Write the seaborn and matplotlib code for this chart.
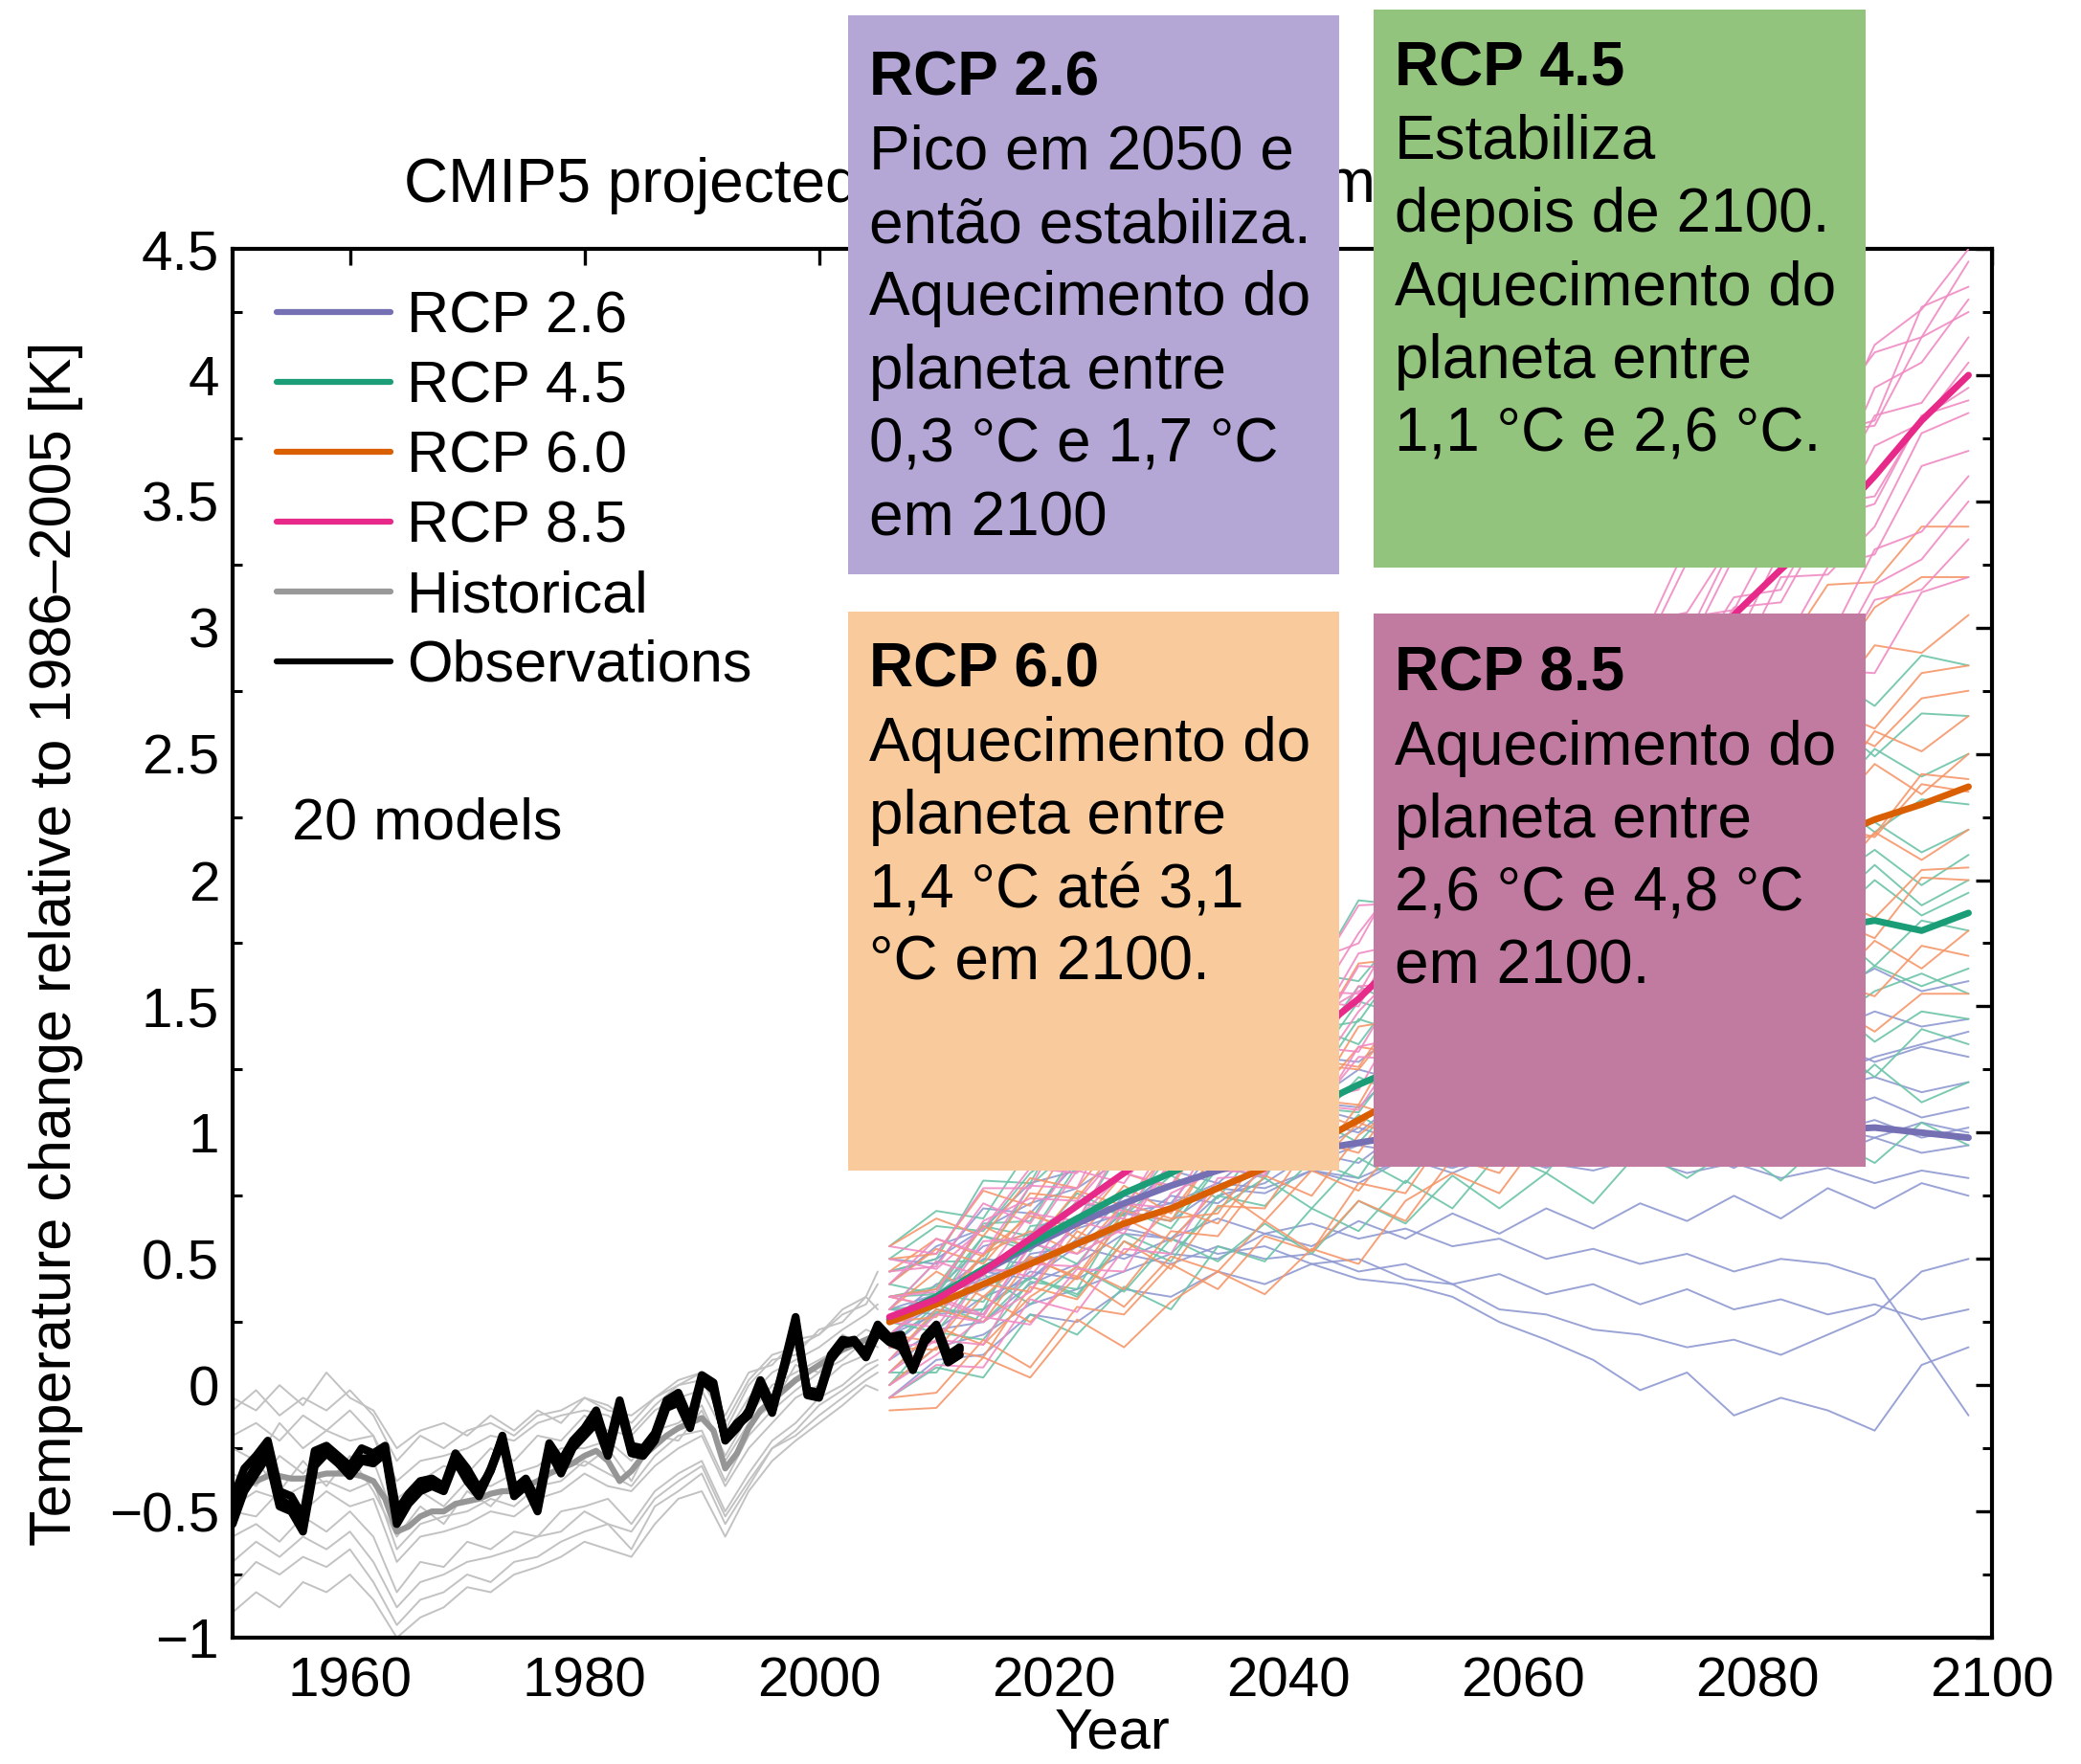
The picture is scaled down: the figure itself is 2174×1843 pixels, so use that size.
import matplotlib
matplotlib.use("Agg")
import matplotlib.pyplot as plt
import pandas as pd
import seaborn as sns
from matplotlib.lines import Line2D
from matplotlib.patches import Rectangle

# ---------------------------------------------------------------- data
hist_years = list(range(1950, 2006, 2)) + [2005]
hist_mean_years = list(range(1950, 2006))
hist_mean = [-0.42, -0.40, -0.38, -0.36, -0.36, -0.37, -0.37, -0.36, -0.35, -0.35,
             -0.35, -0.36, -0.38, -0.45, -0.58, -0.56, -0.52, -0.50, -0.50, -0.47,
             -0.46, -0.45, -0.43, -0.42, -0.42, -0.40, -0.38, -0.35, -0.33, -0.31,
             -0.28, -0.26, -0.30, -0.38, -0.34, -0.28, -0.24, -0.20, -0.17, -0.15,
             -0.13, -0.18, -0.33, -0.27, -0.17, -0.10, -0.06, -0.02, 0.02, 0.05,
             0.08, 0.11, 0.14, 0.16, 0.18, 0.20]
hist_models = [
    [-.10, -.02, -.12, -.05, -.10, -.02, -.12, -.30, -.20, -.25, -.18, -.15, -.20, -.12, -.10, -.05, -.08, -.15, -.05, .02, .05, -.18, .00, .10, .12, .22, .25, .35, .30],
    [-.80, -.70, -.75, -.68, -.72, -.65, -.78, -.95, -.85, -.82, -.75, -.78, -.70, -.68, -.62, -.58, -.55, -.65, -.48, -.42, -.35, -.55, -.40, -.25, -.20, -.12, -.05, .02, .05],
    [-.25, -.30, -.15, -.25, -.18, -.22, -.20, -.45, -.38, -.32, -.35, -.25, -.30, -.20, -.22, -.12, -.18, -.20, -.10, -.05, -.02, -.20, -.05, .05, .10, .15, .22, .28, .32],
    [-.60, -.55, -.62, -.52, -.58, -.50, -.60, -.82, -.70, -.72, -.62, -.65, -.58, -.60, -.50, -.48, -.45, -.55, -.42, -.35, -.30, -.50, -.35, -.22, -.15, -.05, .00, .08, .10],
    [-.35, -.40, -.28, -.35, -.25, -.32, -.30, -.55, -.42, -.48, -.38, -.40, -.35, -.32, -.25, -.25, -.22, -.30, -.18, -.15, -.08, -.28, -.12, .00, .05, .10, .15, .22, .20],
    [-.50, -.52, -.42, -.50, -.42, -.48, -.45, -.70, -.60, -.58, -.55, -.50, -.52, -.45, -.42, -.35, -.40, -.42, -.32, -.25, -.20, -.40, -.25, -.15, -.05, .00, .08, .12, .18],
    [-.20, -.15, -.22, -.12, -.18, -.10, -.20, -.38, -.30, -.28, -.25, -.20, -.22, -.15, -.12, -.10, -.12, -.18, -.08, .00, .02, -.15, .02, .12, .15, .20, .28, .32, .40],
    [-.90, -.82, -.88, -.78, -.82, -.75, -.85, -1.00, -.92, -.88, -.80, -.82, -.75, -.72, -.68, -.62, -.65, -.68, -.55, -.45, -.42, -.60, -.42, -.30, -.22, -.15, -.08, .00, -.02],
    [-.45, -.30, -.42, -.30, -.40, -.28, -.42, -.60, -.48, -.55, -.42, -.48, -.38, -.42, -.30, -.32, -.25, -.38, -.20, -.22, -.10, -.30, -.15, -.08, .08, .05, .20, .15, .25],
    [-.05, -.10, .00, -.08, .05, -.05, -.10, -.25, -.18, -.15, -.20, -.12, -.18, -.10, -.15, -.05, -.10, -.12, -.05, .00, .05, -.12, .05, .08, .18, .20, .30, .35, .45],
    [-.70, -.62, -.68, -.60, -.65, -.58, -.70, -.88, -.78, -.75, -.70, -.68, -.65, -.60, -.58, -.50, -.55, -.58, -.45, -.38, -.32, -.52, -.38, -.25, -.18, -.08, -.02, .05, .08],
    [-.48, -.42, -.45, -.40, -.38, -.42, -.38, -.65, -.55, -.52, -.50, -.45, -.48, -.40, -.38, -.30, -.35, -.40, -.28, -.20, -.18, -.38, -.20, -.10, -.02, .05, .10, .18, .15],
]

obs_years = list(range(1950, 2013))
obs_a = [-.50, -.39, -.32, -.25, -.45, -.48, -.55, -.30, -.26, -.30,
         -.34, -.29, -.29, -.26, -.53, -.45, -.40, -.39, -.41, -.29,
         -.37, -.43, -.33, -.21, -.43, -.39, -.48, -.25, -.34, -.24,
         -.19, -.13, -.27, -.08, -.26, -.27, -.21, -.08, -.06, -.16,
         .03, -.01, -.21, -.15, -.11, .00, -.10, .08, .27, -.03,
         -.04, .11, .17, .18, .12, .22, .18, .16, .07, .18,
         .23, .10, .14]
obs_b = [-.45, -.33, -.28, -.22, -.42, -.44, -.52, -.26, -.24, -.28,
         -.32, -.25, -.27, -.24, -.50, -.43, -.38, -.37, -.40, -.27,
         -.33, -.41, -.34, -.20, -.41, -.37, -.46, -.23, -.30, -.22,
         -.17, -.10, -.25, -.06, -.24, -.25, -.19, -.06, -.03, -.14,
         .04, .01, -.22, -.17, -.10, .02, -.08, .06, .23, -.02,
         -.03, .12, .18, .17, .13, .24, .19, .20, .06, .19,
         .24, .12, .15]
obs_c = [-.55, -.42, -.35, -.28, -.48, -.50, -.58, -.32, -.27, -.31,
         -.36, -.30, -.31, -.27, -.55, -.47, -.42, -.40, -.42, -.30,
         -.38, -.44, -.34, -.22, -.44, -.40, -.50, -.26, -.35, -.25,
         -.20, -.15, -.28, -.09, -.27, -.28, -.22, -.09, -.07, -.17,
         .02, -.02, -.21, -.16, -.12, -.01, -.11, .07, .25, -.04,
         -.05, .10, .16, .17, .11, .21, .17, .15, .06, .17,
         .22, .09, .12]

rcp_years = list(range(2006, 2099, 4))
rcp26_mean = [.26, .35, .45, .55, .64, .72, .79, .85, .90, .93, .96, .99, 1.00, 1.01, 1.02, 1.02, 1.01, 1.02, 1.01, 1.00, 1.01, 1.02, 1.00, .98]
rcp45_mean = [.26, .35, .46, .56, .66, .76, .84, .93, 1.02, 1.10, 1.19, 1.27, 1.36, 1.44, 1.51, 1.58, 1.64, 1.70, 1.74, 1.78, 1.81, 1.84, 1.80, 1.87]
rcp60_mean = [.25, .32, .40, .48, .56, .64, .70, .78, .86, .95, 1.05, 1.15, 1.26, 1.38, 1.50, 1.62, 1.74, 1.86, 1.97, 2.07, 2.16, 2.24, 2.30, 2.37]
rcp85_mean = [.27, .34, .45, .58, .71, .84, .97, 1.10, 1.24, 1.38, 1.53, 1.71, 1.90, 2.09, 2.28, 2.47, 2.66, 2.86, 3.05, 3.23, 3.40, 3.60, 3.82, 4.00]

rcp26_models = [
    [.40, .55, .62, .80, .85, 1.02, 1.00, 1.18, 1.15, 1.30, 1.28, 1.42, 1.35, 1.48, 1.40, 1.52, 1.47, 1.58, 1.50, 1.62, 1.55, 1.65, 1.56, 1.60],
    [.15, .30, .28, .52, .55, .75, .72, .95, .98, 1.12, 1.10, 1.28, 1.22, 1.35, 1.30, 1.42, 1.36, 1.45, 1.38, 1.50, 1.40, 1.48, 1.42, 1.45],
    [.50, .48, .70, .68, .88, .90, 1.05, 1.02, 1.18, 1.12, 1.25, 1.20, 1.32, 1.24, 1.30, 1.22, 1.35, 1.28, 1.33, 1.25, 1.36, 1.28, 1.34, 1.30],
    [.25, .40, .45, .55, .72, .70, .85, .92, .98, 1.05, 1.00, 1.15, 1.10, 1.22, 1.14, 1.25, 1.18, 1.22, 1.15, 1.25, 1.18, 1.22, 1.16, 1.20],
    [.05, .22, .25, .40, .48, .60, .58, .75, .80, .92, .88, 1.02, .98, 1.10, 1.05, 1.15, 1.08, 1.12, 1.05, 1.15, 1.08, 1.14, 1.06, 1.10],
    [.35, .38, .55, .60, .72, .70, .85, .80, .95, .92, 1.02, .96, 1.06, .98, 1.05, .96, 1.04, .98, 1.05, .96, 1.02, .98, 1.04, 1.00],
    [.20, .32, .38, .50, .55, .68, .65, .78, .76, .85, .80, .90, .84, .92, .86, .95, .88, .94, .86, .96, .90, .98, .92, .95],
    [.30, .28, .45, .42, .55, .50, .58, .52, .55, .48, .50, .42, .40, .30, .28, .22, .20, .15, .18, .12, .20, .28, .45, .50],
    [-.05, .10, .12, .28, .25, .38, .35, .45, .40, .48, .42, .40, .35, .25, .18, .10, -.02, .05, -.12, -.05, -.10, -.18, .08, .15],
    [.25, .35, .42, .50, .55, .62, .58, .66, .60, .64, .58, .62, .55, .58, .50, .54, .48, .52, .45, .50, .48, .42, .15, -.12],
    [.10, .22, .35, .42, .58, .62, .75, .72, .85, .88, .95, .92, 1.00, .94, 1.02, .96, 1.05, .98, 1.03, .95, 1.00, 1.05, .98, 1.02],
    [.45, .50, .62, .72, .78, .90, .88, 1.00, 1.02, 1.10, 1.05, 1.15, 1.08, 1.18, 1.12, 1.20, 1.14, 1.25, 1.18, 1.28, 1.22, 1.30, 1.35, 1.40],
    [.00, .15, .20, .32, .38, .45, .52, .50, .60, .55, .65, .58, .68, .60, .70, .62, .72, .65, .75, .66, .78, .70, .80, .75],
    [.30, .36, .50, .48, .62, .68, .72, .80, .78, .85, .82, .90, .86, .92, .88, .85, .90, .84, .88, .82, .86, .80, .85, .82],
    [.20, .28, .30, .45, .42, .52, .48, .55, .50, .52, .45, .48, .40, .44, .36, .40, .32, .38, .30, .34, .28, .32, .26, .30],
]
rcp45_models = [
    [.45, .50, .81, .80, 1.13, 1.15, 1.41, 1.39, 1.63, 1.60, 1.92, 1.90, 2.19, 2.13, 2.36, 2.32, 2.57, 2.55, 2.76, 2.64, 2.81, 2.69, 2.89, 2.85],
    [.10, .29, .30, .63, .65, .95, .88, 1.15, 1.13, 1.41, 1.44, 1.70, 1.68, 1.91, 1.86, 2.15, 2.11, 2.35, 2.25, 2.42, 2.31, 2.52, 2.41, 2.50],
    [.35, .36, .64, .65, .93, .88, 1.10, 1.06, 1.33, 1.32, 1.58, 1.49, 1.73, 1.72, 1.96, 1.90, 2.10, 1.99, 2.20, 2.14, 2.33, 2.19, 2.32, 2.30],
    [.55, .69, .66, .94, .87, 1.08, 1.01, 1.27, 1.23, 1.42, 1.35, 1.60, 1.55, 1.74, 1.65, 1.92, 1.82, 1.99, 1.89, 2.11, 1.99, 2.12, 1.98, 2.10],
    [.00, .21, .18, .41, .38, .69, .65, .87, .82, 1.10, 1.08, 1.32, 1.25, 1.48, 1.45, 1.70, 1.59, 1.79, 1.69, 1.90, 1.83, 2.00, 1.86, 1.95],
    [.30, .32, .59, .53, .73, .67, .92, .87, 1.11, 1.02, 1.22, 1.14, 1.40, 1.35, 1.56, 1.45, 1.64, 1.58, 1.78, 1.67, 1.82, 1.66, 1.84, 1.80],
    [.20, .36, .33, .57, .48, .70, .62, .86, .83, 1.06, .96, 1.16, 1.09, 1.32, 1.28, 1.47, 1.34, 1.55, 1.47, 1.67, 1.52, 1.66, 1.58, 1.65],
    [.40, .36, .59, .55, .76, .67, .83, .74, .98, .90, 1.07, .96, 1.17, 1.09, 1.31, 1.21, 1.36, 1.24, 1.44, 1.34, 1.51, 1.36, 1.48, 1.45],
    [-.05, .07, .03, .28, .20, .39, .30, .55, .49, .70, .61, .81, .70, .92, .84, 1.08, .97, 1.13, 1.00, 1.21, 1.10, 1.27, 1.12, 1.20],
    [.25, .21, .44, .32, .47, .37, .58, .49, .64, .52, .73, .64, .83, .70, .84, .72, .93, .82, .94, .81, .98, .88, 1.04, .95],
    [.30, .49, .49, .79, .96, .95, 1.20, 1.18, 1.47, 1.63, 1.60, 1.82, 1.81, 2.10, 2.07, 2.33, 2.23, 2.45, 2.36, 2.58, 2.64, 2.49, 2.66, 2.65],
    [.05, .05, .30, .43, .36, .57, .49, .75, .71, .89, .82, 1.09, 1.01, 1.20, 1.13, 1.38, 1.29, 1.45, 1.33, 1.55, 1.43, 1.56, 1.63, 1.55],
    [.50, .63, .61, .84, .97, .87, 1.09, 1.20, 1.15, 1.18, 1.45, 1.39, 1.62, 1.54, 1.71, 1.63, 1.87, 1.89, 1.78, 1.98, 1.89, 2.06, 1.90, 2.00],
    [.15, .32, .25, .43, .35, .60, .52, .70, .82, .70, .90, .80, 1.02, 1.11, 1.02, 1.23, 1.10, 1.17, 1.35, 1.22, 1.36, 1.22, 1.41, 1.35],
    [.35, .39, .63, .59, .87, .88, 1.12, 1.04, 1.27, 1.26, 1.52, 1.46, 1.53, 1.77, 1.89, 1.81, 1.99, 1.90, 2.13, 2.05, 2.19, 2.23, 2.11, 2.20],
]
rcp60_models = [
    [.50, .52, .77, .71, 1.00, .98, 1.21, 1.17, 1.39, 1.36, 1.67, 1.69, 1.98, 1.97, 2.26, 2.31, 2.64, 2.65, 2.93, 2.89, 3.17, 3.18, 3.40, 3.40],
    [.10, .30, .25, .50, .43, .69, .65, .94, .90, 1.13, 1.11, 1.43, 1.45, 1.77, 1.78, 2.09, 2.07, 2.39, 2.43, 2.73, 2.68, 2.93, 2.90, 3.05],
    [.35, .38, .63, .54, .77, .71, .94, .94, 1.17, 1.12, 1.34, 1.31, 1.62, 1.63, 1.89, 1.87, 2.19, 2.19, 2.48, 2.45, 2.68, 2.60, 2.82, 2.85],
    [.00, .15, .11, .39, .34, .57, .46, .71, .70, .97, .92, 1.18, 1.16, 1.47, 1.51, 1.81, 1.80, 2.09, 2.05, 2.32, 2.33, 2.59, 2.51, 2.65],
    [.55, .66, .59, .82, .78, 1.01, .88, 1.09, 1.01, 1.27, 1.25, 1.48, 1.42, 1.64, 1.60, 1.87, 1.87, 2.13, 2.05, 2.27, 2.25, 2.46, 2.34, 2.50],
    [.20, .17, .40, .37, .61, .52, .70, .64, .88, .86, 1.11, 1.05, 1.30, 1.25, 1.52, 1.51, 1.81, 1.78, 2.00, 1.94, 2.22, 2.17, 2.38, 2.35],
    [.40, .54, .48, .69, .58, .79, .68, .93, .87, 1.09, 1.02, 1.22, 1.16, 1.44, 1.41, 1.66, 1.59, 1.83, 1.76, 2.02, 1.97, 2.19, 2.08, 2.20],
    [-.05, -.03, .18, .07, .31, .28, .48, .38, .59, .53, .80, .76, 1.03, .99, 1.22, 1.17, 1.44, 1.43, 1.71, 1.65, 1.85, 1.77, 2.01, 2.00],
    [.30, .45, .35, .51, .42, .66, .57, .78, .65, .85, .77, 1.00, .96, 1.20, 1.13, 1.35, 1.25, 1.49, 1.46, 1.69, 1.57, 1.76, 1.65, 1.80],
    [.15, .14, .35, .25, .43, .31, .51, .45, .65, .53, .73, .65, .90, .84, 1.08, 1.00, 1.19, 1.11, 1.34, 1.27, 1.51, 1.40, 1.55, 1.55],
    [.25, .27, .52, .67, .62, .84, .78, 1.07, 1.14, 1.12, 1.42, 1.45, 1.75, 1.74, 2.04, 2.26, 2.26, 2.39, 2.72, 2.83, 2.81, 3.08, 3.20, 3.20],
    [.05, .23, .16, .35, .47, .38, .61, .59, .83, .75, .99, 1.13, 1.07, 1.36, 1.39, 1.67, 1.62, 1.88, 1.90, 2.17, 2.12, 2.18, 2.42, 2.40],
    [.45, .58, .51, .76, .74, .97, .86, 1.08, 1.01, 1.29, 1.26, 1.53, 1.49, 1.60, 1.91, 1.88, 2.12, 2.10, 2.40, 2.37, 2.62, 2.53, 2.72, 2.75],
    [-.10, -.09, .11, .03, .26, .15, .33, .45, .36, .54, .48, .73, .84, .76, 1.01, 1.00, 1.27, 1.22, 1.42, 1.34, 1.60, 1.54, 1.74, 1.70],
    [.35, .31, .52, .61, .52, .72, .66, .68, .94, .85, 1.04, .97, 1.24, 1.21, 1.45, 1.37, 1.60, 1.58, 1.83, 1.76, 1.94, 1.85, 2.04, 2.05],
]
rcp85_models = [
    [.40, .58, .52, .79, .78, 1.15, 1.12, 1.39, 1.35, 1.68, 1.75, 2.08, 2.11, 2.52, 2.55, 2.87, 2.93, 3.33, 3.40, 3.76, 3.72, 4.12, 4.26, 4.50],
    [.15, .17, .45, .46, .73, .69, 1.00, 1.01, 1.34, 1.35, 1.66, 1.65, 2.04, 2.13, 2.51, 2.59, 2.92, 2.96, 3.34, 3.43, 3.77, 3.82, 4.27, 4.35],
    [.55, .52, .78, .78, 1.11, 1.06, 1.29, 1.28, 1.59, 1.60, 1.90, 1.91, 2.23, 2.24, 2.62, 2.68, 3.02, 3.06, 3.35, 3.39, 3.77, 3.80, 4.15, 4.25],
    [.30, .49, .43, .68, .65, .97, .96, 1.26, 1.26, 1.52, 1.50, 1.84, 1.90, 2.28, 2.32, 2.66, 2.72, 3.04, 3.07, 3.42, 3.49, 3.84, 3.89, 4.15],
    [.05, .18, .16, .48, .47, .72, .70, 1.02, 1.03, 1.34, 1.32, 1.63, 1.70, 2.08, 2.16, 2.51, 2.54, 2.88, 2.93, 3.31, 3.35, 3.72, 3.81, 4.05],
    [.45, .47, .72, .64, .91, .91, 1.23, 1.17, 1.41, 1.39, 1.71, 1.75, 2.08, 2.10, 2.38, 2.42, 2.81, 2.83, 3.12, 3.15, 3.49, 3.52, 3.83, 3.95],
    [.20, .35, .28, .55, .67, .66, .95, .96, 1.25, 1.21, 1.48, 1.67, 1.70, 2.06, 2.13, 2.45, 2.46, 2.78, 2.82, 3.20, 3.21, 3.40, 3.77, 3.85],
    [.35, .31, .57, .58, .85, .80, 1.06, 1.00, 1.27, 1.27, 1.58, 1.59, 1.89, 1.88, 2.22, 2.28, 2.60, 2.59, 2.90, 2.91, 3.24, 3.29, 3.64, 3.70],
    [-.05, .08, .07, .34, .29, .54, .52, .82, .83, 1.11, 1.09, 1.37, 1.40, 1.74, 1.81, 2.14, 2.15, 2.47, 2.54, 2.85, 2.83, 3.17, 3.27, 3.50],
    [.25, .23, .47, .43, .65, .60, .88, .87, 1.12, 1.07, 1.30, 1.29, 1.62, 1.64, 1.94, 1.91, 2.20, 2.20, 2.50, 2.55, 2.83, 2.82, 3.14, 3.20],
    [.10, .28, .25, .37, .66, .84, .79, 1.09, 1.13, 1.45, 1.56, 1.62, 2.02, 2.10, 2.46, 2.50, 2.85, 2.91, 3.28, 3.51, 3.52, 3.95, 4.05, 4.30],
    [.50, .46, .62, .86, .84, 1.12, 1.09, 1.18, 1.48, 1.56, 1.55, 1.87, 1.94, 2.26, 2.25, 2.55, 2.78, 2.80, 3.08, 3.10, 3.43, 3.49, 3.84, 3.90],
    [.00, .12, .27, .24, .46, .45, .76, .85, .84, 1.13, 1.17, 1.49, 1.49, 1.81, 1.88, 2.22, 2.27, 2.58, 2.58, 2.92, 2.94, 3.31, 3.38, 3.60],
    [.35, .37, .65, .74, .73, .94, 1.20, 1.20, 1.52, 1.49, 1.79, 2.03, 2.08, 2.25, 2.64, 2.82, 2.88, 3.26, 3.50, 3.53, 3.84, 4.09, 4.15, 4.45],
    [.20, .34, .27, .56, .52, .62, .89, .85, 1.08, 1.04, 1.34, 1.38, 1.68, 1.68, 1.95, 1.96, 2.28, 2.47, 2.45, 2.75, 2.78, 3.11, 3.15, 3.35],
]

legend_labels = ["RCP 2.6", "RCP 4.5", "RCP 6.0", "RCP 8.5", "Historical", "Observations"]
x_ticks = [1960, 1980, 2000, 2020, 2040, 2060, 2080, 2100]
y_ticks = [-1, -0.5, 0, 0.5, 1, 1.5, 2, 2.5, 3, 3.5, 4, 4.5]
y_tick_labels = ["\u22121", "\u22120.5", "0", "0.5", "1", "1.5", "2", "2.5", "3", "3.5", "4", "4.5"]
y_minor_ticks = [-0.75, -0.25, 0.25, 0.75, 1.25, 1.75, 2.25, 2.75, 3.25, 3.75, 4.25]
title_text = "CMIP5 projected global surface temperature change"
ylabel_text = "Temperature change relative to 1986\u20132005 [K]"

box_headers = ["RCP 2.6", "RCP 4.5", "RCP 6.0", "RCP 8.5"]
box_bodies = [
    ["Pico em 2050 e", "ent\u00e3o estabiliza.", "Aquecimento do", "planeta entre", "0,3 \u00b0C e 1,7 \u00b0C", "em 2100"],
    ["Estabiliza", "depois de 2100.", "Aquecimento do", "planeta entre", "1,1 \u00b0C e 2,6 \u00b0C."],
    ["Aquecimento do", "planeta entre", "1,4 \u00b0C at\u00e9 3,1", "\u00b0C em 2100."],
    ["Aquecimento do", "planeta entre", "2,6 \u00b0C e 4,8 \u00b0C", "em 2100."],
]

# ---------------------------------------------------------------- style
sns.set_style("white")
plt.rcParams['font.family'] = ['Liberation Sans', 'DejaVu Sans']
plt.rcParams['text.color'] = 'black'
plt.rcParams['axes.labelcolor'] = 'black'
plt.rcParams['xtick.color'] = 'black'
plt.rcParams['ytick.color'] = 'black'

W, H = 2174, 1843
fig = plt.figure(figsize=(W / 100, H / 100), dpi=100)
fig.patch.set_facecolor("white")
ax = fig.add_axes([243 / W, 1 - 1711 / H, 1838 / W, 1451 / H])


def to_long(years, models):
    rows = [(k, yr, v) for k, vals in enumerate(models) for yr, v in zip(years, vals)]
    return pd.DataFrame(rows, columns=["model", "year", "temp"])


thin_kw = dict(x="year", y="temp", units="model", estimator=None, legend=False, ax=ax)

sns.lineplot(data=to_long(hist_years, hist_models), color="#c2c2c2", linewidth=1.4, zorder=1, **thin_kw)
sns.lineplot(x=hist_mean_years, y=hist_mean, color="#969696", linewidth=4.5, ax=ax, zorder=2)

thin_sets = [(rcp26_models, "#8f99d1"), (rcp45_models, "#6cc4a8"),
             (rcp60_models, "#f5976a"), (rcp85_models, "#f08bc3")]
for models, col in thin_sets:
    sns.lineplot(data=to_long(rcp_years, models), color=col, linewidth=1.4, alpha=0.9, zorder=3, **thin_kw)

mean_colors = ["#7570b3", "#1b9e77", "#d95f02", "#e7298a"]
for mean, col in zip([rcp26_mean, rcp45_mean, rcp60_mean, rcp85_mean], mean_colors):
    sns.lineplot(x=rcp_years, y=mean, color=col, linewidth=5, ax=ax, zorder=5)

sns.lineplot(data=to_long(obs_years, [obs_a, obs_b, obs_c]), color="black", linewidth=6, zorder=6, **thin_kw)

# ---------------------------------------------------------------- axes
ax.set_xlim(1950, 2100)
ax.set_ylim(-1, 4.5)
ax.set_xticks(x_ticks)
ax.set_yticks(y_ticks)
ax.set_yticklabels(y_tick_labels)
ax.set_yticks(y_minor_ticks, minor=True)
for s in ax.spines.values():
    s.set_visible(True)
    s.set_color("black")
    s.set_linewidth(3.0)
ax.tick_params(axis="both", which="major", direction="in", length=12, width=2.4,
               top=True, right=True, labelsize=42, colors="black")
ax.tick_params(axis="y", which="minor", direction="in", length=7, width=2.2, left=True, right=True)
ax.tick_params(axis="x", pad=14)
ax.tick_params(axis="y", pad=10)

ax.set_xlabel("Year", fontsize=43)
ax.xaxis.set_label_coords(0.5, -0.050)
ax.set_ylabel(ylabel_text, fontsize=44)
ax.yaxis.set_label_coords(-0.085, 0.5)
ax.set_title(title_text, fontsize=46, pad=35, color="black")

ax.text(1955.1, 2.165, "20 models", fontsize=44, va="baseline", ha="left")

handles = [Line2D([0], [0], color=c, lw=4.5) for c in mean_colors + ["#999999", "black"]]
ax.legend(handles, legend_labels, loc="upper left", bbox_to_anchor=(0.025, 0.970),
          frameon=False, fontsize=44, handlelength=1.95, handletextpad=0.28,
          labelspacing=0.26, borderpad=0, borderaxespad=0)

# ---------------------------------------------------------------- annotation boxes
box_rects = [(886, 16, 1399, 600), (1435, 10, 1949, 593), (886, 639, 1399, 1223), (1435, 641, 1949, 1219)]
box_colors = ["#b4a7d6", "#93c47d", "#f9cb9c", "#c27ba0"]
box_text_x = [908, 1457, 908, 1457]
box_first_baseline = [100, 89, 718, 722]
line_step = 76.5

for (x0, y0, x1, y1), col, tx, by, head, body in zip(box_rects, box_colors, box_text_x,
                                                      box_first_baseline, box_headers, box_bodies):
    fig.add_artist(Rectangle((x0 / W, 1 - y1 / H), (x1 - x0) / W, (y1 - y0) / H,
                             transform=fig.transFigure, facecolor=col, edgecolor="none", zorder=10))
    fig.text(tx / W, 1 - by / H, head, fontsize=46, fontweight="bold", va="baseline", ha="left",
             color="black", zorder=11)
    for i, line in enumerate(body, start=1):
        fig.text(tx / W, 1 - (by + i * line_step) / H, line, fontsize=46, va="baseline", ha="left",
                 color="black", zorder=11)

fig.savefig("out.png", dpi=100, facecolor="white")
